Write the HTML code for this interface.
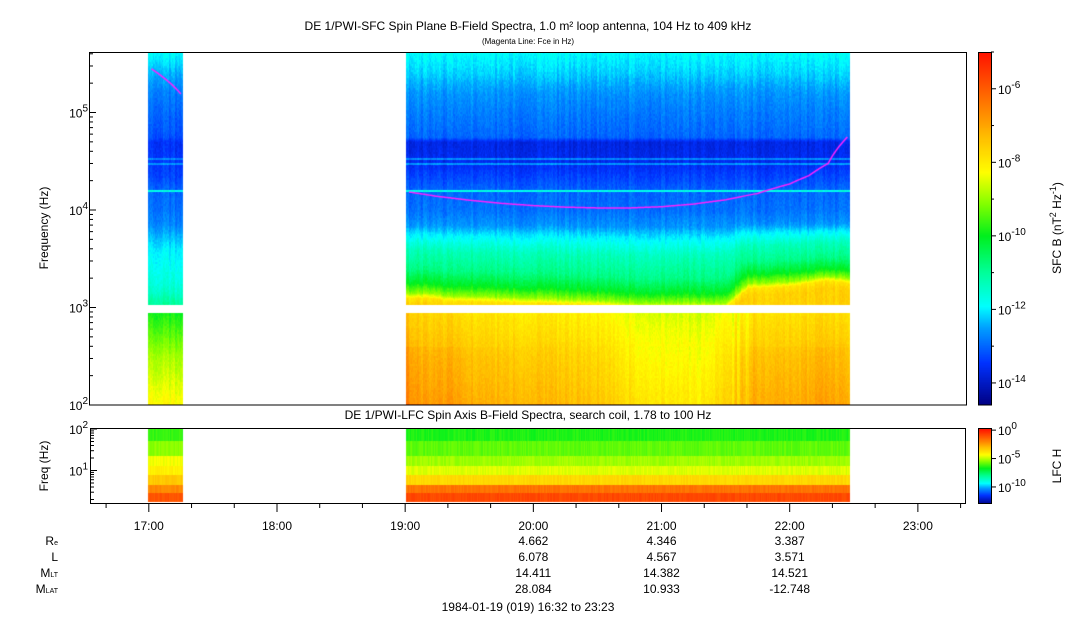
<!DOCTYPE html>
<html><head><meta charset="utf-8"><style>
body{margin:0;background:#fff;width:1083px;height:620px;overflow:hidden;font-family:"Liberation Sans",sans-serif}
#wrap{position:relative;width:1083px;height:620px}
canvas{position:absolute}
svg{position:absolute;left:0;top:0}
</style></head><body><div id="wrap">
<canvas id="c1" width="878" height="353" style="left:89px;top:52px"></canvas>
<canvas id="c2" width="876" height="75" style="left:90px;top:429px"></canvas>
<canvas id="cb1" width="13" height="353" style="left:979px;top:52px"></canvas>
<canvas id="cb2" width="13" height="75" style="left:979px;top:429px"></canvas>
<svg id="ov" width="1083" height="620" font-family="Liberation Sans, sans-serif">
<text x="528" y="30" font-size="12" text-anchor="middle">DE 1/PWI-SFC  Spin Plane B-Field Spectra, 1.0 m² loop antenna, 104 Hz to 409 kHz</text>
<text x="528" y="44" font-size="8" text-anchor="middle">(Magenta Line: Fce in Hz)</text>
<text x="528" y="419" font-size="12" text-anchor="middle">DE 1/PWI-LFC  Spin Axis B-Field Spectra, search coil, 1.78 to 100 Hz</text>
<text transform="translate(48,228) rotate(-90)" font-size="12" text-anchor="middle">Frequency (Hz)</text>
<text transform="translate(48,466) rotate(-90)" font-size="12" text-anchor="middle">Freq (Hz)</text>
<text transform="translate(1061,228) rotate(-90)" font-size="12" text-anchor="middle">SFC B (nT<tspan dy="-5" font-size="9">2</tspan><tspan dy="5"> Hz</tspan><tspan dy="-5" font-size="9">-1</tspan><tspan dy="5">)</tspan></text>
<text transform="translate(1061,466) rotate(-90)" font-size="12" text-anchor="middle">LFC H</text>
<text x="528" y="611" font-size="12" text-anchor="middle">1984-01-19 (019) 16:32 to 23:23</text>
<g id="g"></g>
</svg>
</div>
<script>
// ---------- data ----------
const timeTicks = ["17:00","18:00","19:00","20:00","21:00","22:00","23:00"];
const tickHours = [17,18,19,20,21,22,23];
const segStart = [16.992, 19.008];
const segEnd = [17.267, 22.467];
// SFC profiles (log10 level) vs log10 frequency
const profF = [2.0,2.5,2.95,3.03,3.1,3.15,3.25,3.4,3.6,3.75,3.85,4.0,4.2,4.35,4.5,4.7,4.75,5.0,5.2,5.4,5.61];
const profRight = [-7.5,-7.8,-8.2,-7.6,-7.9,-9.0,-10.0,-10.8,-11.3,-12.0,-12.6,-12.9,-13.0,-13.3,-13.6,-13.7,-13.0,-12.8,-12.6,-12.2,-11.9];
const profLeft = [-8.2,-8.9,-9.9,-11.0,-11.2,-11.4,-11.6,-11.8,-12.0,-12.4,-12.7,-12.9,-13.0,-13.3,-13.4,-13.5,-13.2,-13.0,-12.8,-12.4,-11.9];
const modTimes = [19.0,19.08,19.2,19.35,19.5,20.0,20.5,20.8,21.3,21.5,21.68,22.0,22.3,22.47];
const lowAdj = [1.1,0.7,0.6,0.7,0.4,0.3,0.15,-0.3,-0.5,-0.1,0.5,0.4,0.6,0.35];
const hissEdge = [3.15,3.15,3.15,3.12,3.12,3.1,3.08,3.05,3.05,3.05,3.25,3.27,3.33,3.3];
const lineF = [4.2,4.48,4.53];
const lineLevel = [-11.7,-12.6,-12.7];
// Fce (Hz)
const fceTimes1 = [17.02,17.25];
const fceVals1 = [280000,155000];
const fceTimes2 = [19.03,19.25,19.5,19.75,20.0,20.25,20.5,20.75,21.0,21.25,21.5,21.75,22.0,22.15,22.3,22.45];
const fceVals2 = [15300,13800,12600,11700,11100,10700,10500,10500,10800,11500,12700,14800,18500,22500,30000,56000];
// LFC bands
const lfcEdges = [0.25,0.45,0.65,0.9,1.1,1.35,1.7,2.0];
const lfcRight = [-0.8,-1.6,-3.5,-4.6,-5.2,-5.8,-6.4];
const lfcLeft = [-1.0,-2.0,-3.2,-4.0,-4.4,-5.4,-6.2];
// ephemeris
const ephHours = [20,21,22];
const ephRe = ["4.662","4.346","3.387"];
const ephL = ["6.078","4.567","3.571"];
const ephMLT = ["14.411","14.382","14.521"];
const ephMLAT = ["28.084","10.933","-12.748"];

// ---------- scales ----------
const X0=89,X1=967,T0=16+32/60,T1=23+23/60;
function xS(t){return X0+(t-T0)/(T1-T0)*(X1-X0);}
function tOf(x){return T0+(x-X0)/(X1-X0)*(T1-T0);}
const yS=lf=>405-(lf-2)*97.5;
const yL=lf=>429+(2-lf)*41.5;
function interp(xs,ys,v){if(v<=xs[0])return ys[0];for(let i=1;i<xs.length;i++)if(v<=xs[i]){const f=(v-xs[i-1])/(xs[i]-xs[i-1]);return ys[i-1]+f*(ys[i]-ys[i-1]);}return ys[ys.length-1];}
const jS=[[0,0,0,130],[0.12,0,50,255],[0.22,0,160,255],[0.28,0,255,255],[0.38,0,255,150],[0.48,0,240,30],[0.57,130,255,0],[0.66,255,255,0],[0.76,255,190,0],[0.87,255,110,0],[1,255,20,0]];
function jet(f){f=Math.max(0,Math.min(1,f));for(let i=1;i<jS.length;i++)if(f<=jS[i][0]){const a=jS[i-1],b=jS[i],k=(f-a[0])/(b[0]-a[0]);return [a[1]+k*(b[1]-a[1]),a[2]+k*(b[2]-a[2]),a[3]+k*(b[3]-a[3])];}return [255,20,0];}
function h(a,b){let n=(a*374761393+b*668265263)|0;n=(n^(n>>>13))*1274126177|0;return ((n^(n>>>16))>>>0)/4294967296;}
function inSeg(t){for(let i=0;i<segStart.length;i++)if(t>=segStart[i]&&t<=segEnd[i])return i;return -1;}

// ---------- SFC ----------
const c1=document.getElementById('c1'),x1=c1.getContext('2d'),im=x1.createImageData(878,353);
for(let px=0;px<878;px++){const t=tOf(px+X0+0.5);const s=inSeg(t);if(s<0)continue;
 const cn=(h(Math.floor(px/2),7)-0.5)*0.3, cn2=h(Math.floor(px/3),11);
 for(let py=0;py<353;py++){const y=py+52;const lf=2+(405-y)/97.5;
  if(lf>2.95&&lf<3.03)continue;
  let v;
  if(s===0){v=interp(profF,profLeft,lf);}
  else{let sh=interp(modTimes,hissEdge,t)-3.15;let w=Math.max(0,Math.min(1,(3.9-lf)/0.6));
   let lf2=lf>3.03?Math.max(3.03,lf-sh*w):lf;v=interp(profF,profRight,lf2);
   if(lf<2.95)v+=interp(modTimes,lowAdj,t)*(lf<2.6?1:0.8);
   if(lf<2.95&&t>21.55&&t<21.7)v-=0.6*cn2;
   if(lf<2.02)v+=0.5;}
  for(let k=0;k<lineF.length;k++)if(Math.abs(lf-lineF[k])<0.012)v=Math.max(v,lineLevel[k]);
  v+=cn+(h(px,Math.floor(py/2))-0.5)*0.25;
  const c=jet((v+14.6)/9.6);const o=(py*878+px)*4;im.data[o]=c[0];im.data[o+1]=c[1];im.data[o+2]=c[2];im.data[o+3]=255;}}
x1.putImageData(im,0,0);
// Fce lines
function fce(ts,vs){x1.strokeStyle='#ff22ff';x1.lineWidth=1.5;x1.beginPath();let first=true;for(let t=ts[0];t<=ts[ts.length-1]+1e-9;t+=0.01){const xx=xS(t)-X0,yy=yS(Math.log10(interp(ts,vs,t)))-52;first?x1.moveTo(xx,yy):x1.lineTo(xx,yy);first=false;}x1.stroke();}
fce(fceTimes1,fceVals1);fce(fceTimes2,fceVals2);

// ---------- LFC ----------
const c2=document.getElementById('c2'),x2=c2.getContext('2d'),im2=x2.createImageData(876,75);
for(let px=0;px<876;px++){const t=tOf(px+90.5);const s=inSeg(t);if(s<0)continue;
 for(let py=0;py<75;py++){const lf=2-(py+0.5)/41.5;let b=-1;for(let k=0;k<lfcEdges.length-1;k++)if(lf>=lfcEdges[k]&&lf<lfcEdges[k+1])b=k;if(b<0)continue;
  let v=(s===0?lfcLeft:lfcRight)[b]+(h(px,b)-0.5)*0.4;
  const c=jet((v+13)/13.2);const o=(py*876+px)*4;im2.data[o]=c[0];im2.data[o+1]=c[1];im2.data[o+2]=c[2];im2.data[o+3]=255;}}
x2.putImageData(im2,0,0);
// colorbars
[['cb1',353],['cb2',75]].forEach(([id,H])=>{const cx=document.getElementById(id).getContext('2d');for(let y=0;y<H;y++){const c=jet(1-y/H);cx.fillStyle=`rgb(${c[0]|0},${c[1]|0},${c[2]|0})`;cx.fillRect(0,y,13,1);}});

// ---------- axes ----------
const g=document.getElementById('g');const NS='http://www.w3.org/2000/svg';
function el(tag,at,txt){const e=document.createElementNS(NS,tag);for(const k in at)e.setAttribute(k,at[k]);if(txt!=null)e.textContent=txt;g.appendChild(e);return e;}
function line(a,b,c,d){const e=el('line',{x1:a,y1:b,x2:c,y2:d,stroke:'#000','stroke-width':1});

return e;}
const f1=el('rect',{x:89.5,y:52.5,width:877,height:352.5,stroke:'#000',fill:'none'});


const f2=el('rect',{x:90.5,y:428.5,width:875,height:75,stroke:'#000',fill:'none'});


[[978.5,52.5,13,352.5],[978.5,428.5,13,75]].forEach(r=>{const e=el('rect',{x:r[0],y:r[1],width:r[2],height:r[3],stroke:'#000',fill:'none'});

});
function sup(x,y,base,exp,name,anchor){const t=el('text',{x:x,y:y,'font-size':12,'text-anchor':anchor||'end',fill:'#000'});

t.innerHTML=base+'<tspan dy="-6" font-size="10">'+exp+'</tspan>';return t;}
// SFC y axis
for(let d=2;d<=5;d++){sup(88,yS(d)+5,'10',d,'y-tick-label');line(89,yS(d),96,yS(d));
 for(let m=2;m<10;m++){const lf=d+Math.log10(m);if(lf>5.61)break;line(89,yS(lf),93,yS(lf));}}
// LFC y axis
[1,2].forEach(d=>{sup(88,yL(d)+5,'10',d,'lfc-y-tick-label');line(90,yL(d),97,yL(d));});
for(let d=0;d<2;d++)for(let m=2;m<10;m++){const lf=d+Math.log10(m);const yy=yL(lf);if(yy<504&&yy>429)line(90,yy,94,yy);}
// time axis
tickHours.forEach((hh,i)=>{const xx=xS(hh);line(xx,504,xx,512);const t=el('text',{x:xx,y:530,'font-size':12,'text-anchor':'middle',fill:'#000'},timeTicks[i]);

});
for(let m=16*60+40;m<23*60+23;m+=20){if(m%60===0)continue;const xx=xS(m/60);line(xx,504,xx,508);}
// colorbar ticks
for(let e=-14;e<=-6;e+=2){const yy=52+(-5.0-e)/9.6*353;line(991,yy,996,yy);sup(998,yy+5,'10',e,'colorbar-tick-label','start');}
for(let e=-13;e<=-5;e+=2){const yy=52+(-5.0-e)/9.6*353;line(991,yy,994,yy);}
[0,-5,-10].forEach(e=>{const yy=429+(0.2-e)/13.2*75;line(991,yy,996,yy);sup(998,yy+5,'10',e,'lfc-colorbar-tick-label','start');});
// ephemeris
const rowY=[545,561,577,593];
const rowLab=[['R','e'],['L',''],['M','LT'],['M','LAT']];
rowLab.forEach((r,i)=>{const t=el('text',{x:58,y:rowY[i],'font-size':12,'text-anchor':'end',fill:'#000'});t.innerHTML=r[0]+(r[1]?'<tspan font-size="7">'+r[1]+'</tspan>':'');

});
[ephRe,ephL,ephMLT,ephMLAT].forEach((arr,i)=>arr.forEach((v,j)=>{const t=el('text',{x:xS(ephHours[j]),y:rowY[i],'font-size':12,'text-anchor':'middle',fill:'#000'},v);

}));
</script></body></html>
